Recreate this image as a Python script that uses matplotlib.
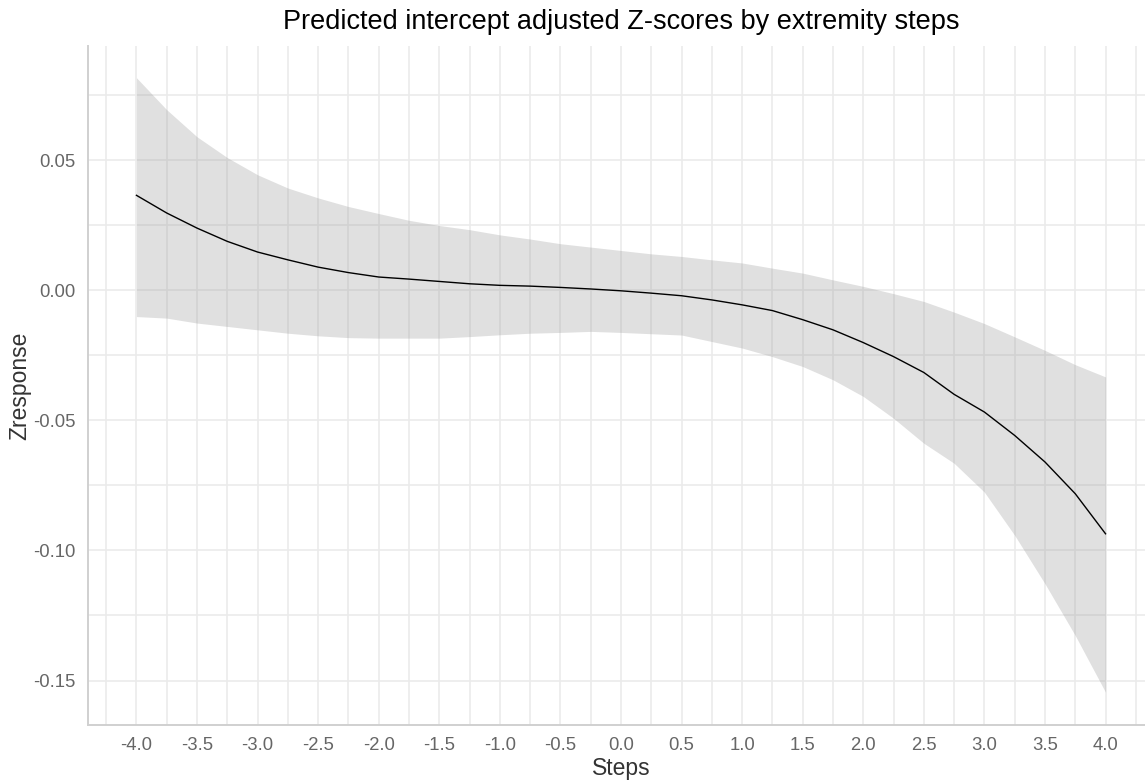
import matplotlib
matplotlib.use('Agg')
import matplotlib.pyplot as plt
from matplotlib.ticker import MultipleLocator
import numpy as np

plt.rcParams['font.family'] = ['Liberation Sans', 'DejaVu Sans']

# predicted values, steps of 0.25
steps = np.arange(-4.0, 4.01, 0.25)
zresponse = [0.0365, 0.0297, 0.0239, 0.0188, 0.0147, 0.0117, 0.0089, 0.0068,
             0.0051, 0.0043, 0.0034, 0.0025, 0.0019, 0.0016, 0.0011, 0.0005,
             -0.0002, -0.0011, -0.0021, -0.0037, -0.0056, -0.0078, -0.0113, -0.0152,
             -0.0201, -0.0255, -0.0316, -0.0400, -0.0468, -0.0558, -0.0660, -0.0782,
             -0.0936]
upper = [0.0817, 0.0694, 0.0590, 0.0510, 0.0444, 0.0393, 0.0355, 0.0322,
         0.0295, 0.0269, 0.0249, 0.0233, 0.0213, 0.0197, 0.0179, 0.0166,
         0.0153, 0.0140, 0.0130, 0.0117, 0.0105, 0.0085, 0.0066, 0.0040,
         0.0015, -0.0013, -0.0043, -0.0084, -0.0128, -0.0179, -0.0231, -0.0286,
         -0.0333]
lower = [-0.0101, -0.0107, -0.0126, -0.0139, -0.0152, -0.0165, -0.0175, -0.0182,
         -0.0184, -0.0184, -0.0184, -0.0178, -0.0171, -0.0165, -0.0162, -0.0158,
         -0.0162, -0.0167, -0.0172, -0.0197, -0.0222, -0.0255, -0.0293, -0.0344,
         -0.0408, -0.0492, -0.0588, -0.0665, -0.0776, -0.0942, -0.1128, -0.1327,
         -0.1545]

fig = plt.figure(figsize=(11.45, 7.82), dpi=100)
# panel runs past the right edge of the picture, like the reference crop
ax = fig.add_axes([88/1145, 57/782, 1066/1145, 679/782])

ax.fill_between(steps, lower, upper, color='#999999', alpha=0.3, linewidth=0, zorder=2)
ax.plot(steps, zresponse, color='black', linewidth=1.0, zorder=3)

ax.set_xlim(-4.4, 4.4)
ax.set_ylim(-0.1671, 0.0939)
ax.xaxis.set_major_locator(MultipleLocator(0.5))
ax.xaxis.set_minor_locator(MultipleLocator(0.25))
ax.yaxis.set_major_locator(MultipleLocator(0.05))
ax.yaxis.set_minor_locator(MultipleLocator(0.025))
ax.xaxis.set_major_formatter(plt.FuncFormatter(lambda v, p: f'{v:.1f}'))
ax.yaxis.set_major_formatter(plt.FuncFormatter(lambda v, p: f'{v:.2f}'))

ax.grid(which='both', color='#EBEBEB', linewidth=1.2, zorder=0)
ax.set_axisbelow(True)
ax.tick_params(which='both', length=0, labelsize=13.3, labelcolor='#666666')
ax.tick_params(axis='x', pad=9)
ax.tick_params(axis='y', pad=9)

for s in ['top', 'right']:
    ax.spines[s].set_visible(False)
for s in ['left', 'bottom']:
    ax.spines[s].set_color('#D0D0D0')
    ax.spines[s].set_linewidth(1.4)

ax.set_xlabel('Steps', fontsize=16.5, color='#333333', labelpad=2)
ax.set_ylabel('Zresponse', fontsize=16.5, color='#333333', labelpad=1)
ax.set_title('Predicted intercept adjusted Z-scores by extremity steps', fontsize=19.5, pad=12)

fig.savefig('out.png', dpi=100)
